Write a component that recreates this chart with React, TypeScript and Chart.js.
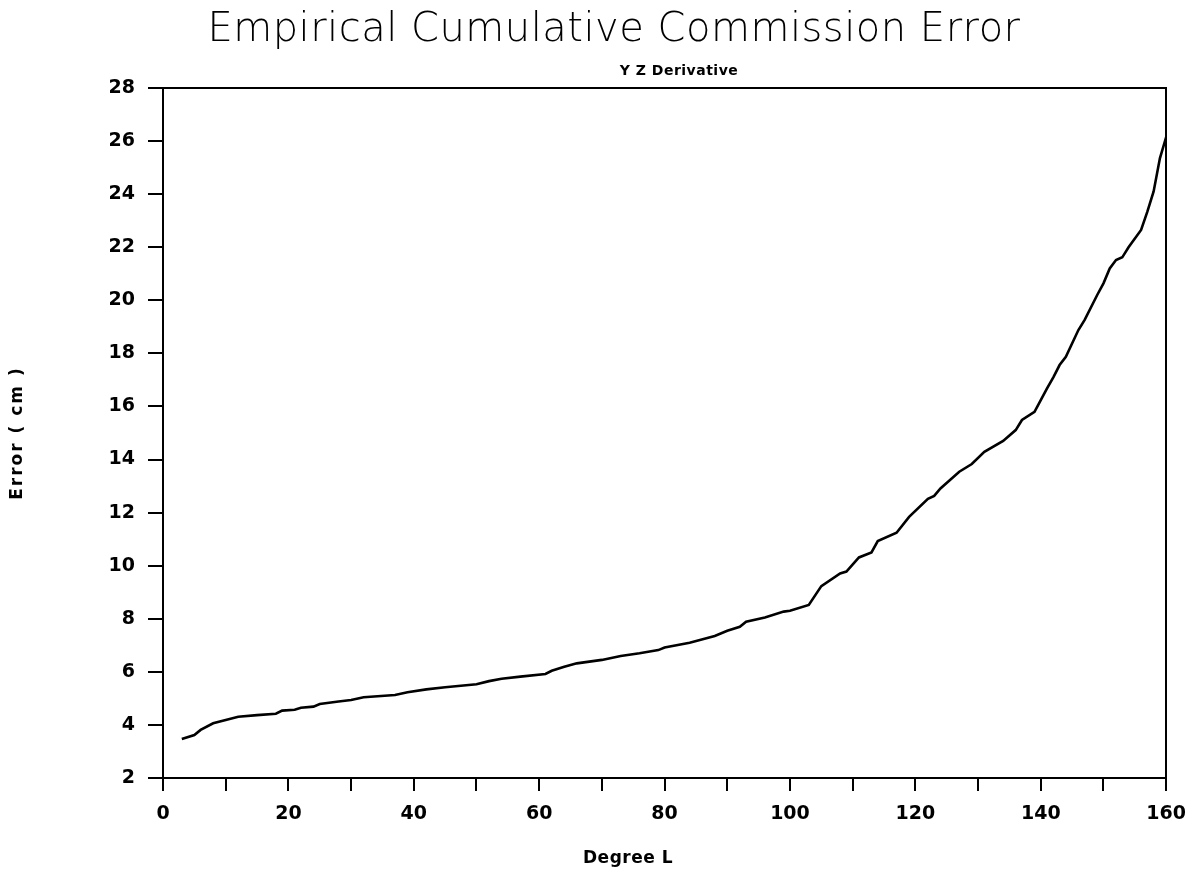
import React, { useEffect, useRef } from "react";
import { Chart, registerables } from "chart.js";

Chart.register(...registerables);

// Degree L at which the cumulative commission error was sampled
const degrees = [
  3, 5, 6, 8, 10, 12, 15, 18, 19, 21, 22, 24, 25, 28, 30, 32, 37, 39, 42, 45,
  50, 52, 54, 57, 61, 62, 64, 66, 70, 73, 76, 79, 80, 84, 88, 90, 92, 93, 96,
  99, 100, 103, 105, 108, 109, 111, 113, 114, 117, 119, 122, 123, 124, 127,
  129, 131, 134, 136, 137, 139, 140, 141, 142, 143, 144, 146, 147, 149, 150,
  151, 152, 153, 154, 156, 157, 158, 159, 160,
];

// Cumulative commission error (cm)
const errorCm = [
  3.47, 3.62, 3.81, 4.06, 4.19, 4.31, 4.37, 4.42, 4.54, 4.57, 4.65, 4.69, 4.79,
  4.88, 4.94, 5.04, 5.13, 5.23, 5.34, 5.42, 5.53, 5.65, 5.74, 5.82, 5.92, 6.04,
  6.19, 6.32, 6.45, 6.6, 6.7, 6.82, 6.92, 7.1, 7.35, 7.55, 7.7, 7.89, 8.05,
  8.27, 8.3, 8.52, 9.23, 9.71, 9.78, 10.31, 10.5, 10.93, 11.24, 11.84, 12.52,
  12.63, 12.91, 13.54, 13.83, 14.29, 14.7, 15.11, 15.49, 15.8, 16.24, 16.68,
  17.1, 17.56, 17.87, 18.88, 19.26, 20.2, 20.64, 21.2, 21.52, 21.62, 22.0,
  22.65, 23.34, 24.1, 25.35, 26.15,
];

const xTicks = { min: 0, max: 160, step: 10, labelEvery: 20 };
const yTicks = { min: 2, max: 28, step: 2 };

const titleText = "Empirical Cumulative Commission Error";
const subtitleText = "Y Z Derivative";
const xAxisTitle = "Degree L";
const yAxisTitle = "Error ( cm )";

const boldFamily = "'DejaVu Sans', 'Liberation Sans', sans-serif";
const labelFont = { family: boldFamily, size: 19, weight: "bold" as const };

// Heading, sub-heading and axis captions
const captions = {
  id: "captions",
  afterDraw(chart: Chart) {
    const ctx = chart.ctx;
    const area = chart.chartArea;
    ctx.save();
    ctx.fillStyle = "#000";
    ctx.textAlign = "center";
    ctx.textBaseline = "alphabetic";
    ctx.font = `200 40px 'DejaVu Sans', sans-serif`;
    (ctx as any).letterSpacing = "0.5px";
    ctx.fillText(titleText, 614, 41);

    ctx.font = `bold 14px ${boldFamily}`;
    (ctx as any).letterSpacing = "0.5px";
    ctx.fillText(subtitleText, 679, 75);

    ctx.textBaseline = "middle";
    ctx.font = `bold 17px ${boldFamily}`;
    (ctx as any).letterSpacing = "0.5px";
    ctx.fillText(xAxisTitle, 628, 859);

    ctx.translate(18, (area.top + area.bottom) / 2);
    ctx.rotate(-Math.PI / 2);
    (ctx as any).letterSpacing = "2px";
    ctx.fillText(yAxisTitle, 0, 0);
    ctx.restore();
  },
};

export default function App() {
  const canvasRef = useRef<HTMLCanvasElement | null>(null);

  useEffect(() => {
    const canvas = canvasRef.current;
    if (!canvas) return;
    const points = degrees.map((d, i) => ({ x: d, y: errorCm[i] }));

    const chart = new Chart(canvas, {
      type: "line",
      data: {
        datasets: [
          {
            data: points,
            borderColor: "#000",
            borderWidth: 2.6,
            pointRadius: 0,
            tension: 0,
            fill: false,
          },
        ],
      },
      options: {
        animation: false,
        responsive: true,
        maintainAspectRatio: false,
        layout: { padding: { top: 88, right: 30, bottom: 0, left: 0 } },
        plugins: {
          legend: { display: false },
          tooltip: { enabled: false },
        },
        scales: {
          x: {
            type: "linear",
            position: "bottom",
            min: xTicks.min,
            max: xTicks.max,
            afterFit: (s: any) => {
              s.height = 97;
            },
            ticks: {
              stepSize: xTicks.step,
              autoSkip: false,
              maxRotation: 0,
              padding: 12,
              color: "#000",
              font: labelFont,
              callback: (v: any) => (Number(v) % xTicks.labelEvery === 0 ? String(v) : ""),
            },
            grid: {
              drawOnChartArea: false,
              drawTicks: true,
              tickLength: 13,
              color: "#000",
              lineWidth: 2,
            },
            border: { display: true, color: "#000", width: 2 },
          },
          y: {
            type: "linear",
            position: "left",
            min: yTicks.min,
            max: yTicks.max,
            afterFit: (s: any) => {
              s.width = 163;
            },
            ticks: {
              stepSize: yTicks.step,
              autoSkip: false,
              padding: 13,
              color: "#000",
              font: labelFont,
            },
            grid: {
              drawOnChartArea: false,
              drawTicks: true,
              tickLength: 15,
              color: "#000",
              lineWidth: 2,
            },
            border: { display: true, color: "#000", width: 2 },
          },
          xTop: {
            type: "linear",
            position: "top",
            min: xTicks.min,
            max: xTicks.max,
            afterFit: (s: any) => {
              s.height = 0;
            },
            ticks: { display: false },
            grid: { display: false, drawTicks: false },
            border: { display: true, color: "#000", width: 2 },
          },
          yRight: {
            type: "linear",
            position: "right",
            min: yTicks.min,
            max: yTicks.max,
            afterFit: (s: any) => {
              s.width = 0;
            },
            ticks: { display: false },
            grid: { display: false, drawTicks: false },
            border: { display: true, color: "#000", width: 2 },
          },
        },
      },
      plugins: [captions],
    });

    return () => chart.destroy();
  }, []);

  return (
    <div
      style={{
        position: "fixed",
        left: 0,
        top: 0,
        width: 1198,
        height: 875,
        background: "#fff",
      }}
    >
      <canvas ref={canvasRef} />
    </div>
  );
}
